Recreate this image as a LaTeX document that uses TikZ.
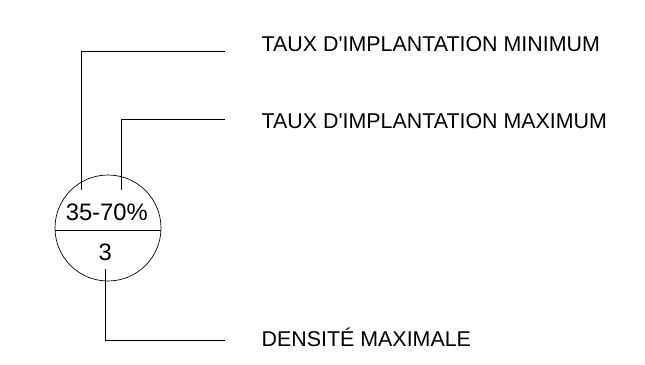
\documentclass[tikz,border=0pt]{standalone}
\usepackage{fontspec}
\setmainfont{Liberation Sans}
\newfontfamily\labfont{Liberation Sans}
\tikzset{lab/.style={anchor=base west,inner sep=0pt,font=\labfont\fontsize{21.4}{23}\selectfont},
 inl/.style={anchor=base,inner sep=0pt,font=\fontsize{23.8}{26}\selectfont},
 ln/.style={line width=0.7pt,black}}
\begin{document}
\begin{tikzpicture}[x=1pt,y=-1pt]
\useasboundingbox (0,0) rectangle (645,364);
\node[circle,draw,line width=0.7pt,minimum size=106pt,inner sep=0pt] (c) at (108,228) {};
\coordinate (cl) at (55,230.3);
\coordinate (cr) at (161,230.3);
\draw[ln] (cl) -- (cr);
\node[inl] (pct) at (106.8,220.7) {35-70\%};
\node[inl] (three) at (105.2,260.7) {3};
\node[lab] (t1) at (261.5,51.3) {TAUX D'IMPLANTATION MINIMUM};
\node[lab] (t2) at (261.5,128.7) {TAUX D'IMPLANTATION MAXIMUM};
\node[lab] (t3) at (261.5,346) {DENSITÉ MAXIMALE};
\coordinate (a1) at (81.3,190);
\coordinate (a2) at (121,190);
\coordinate (a3) at (105.3,269.3);
\coordinate (e1) at (225,51.3);
\coordinate (e2) at (225,119.7);
\coordinate (e3) at (225,340.7);
\draw[ln] (a1) |- (e1);
\draw[ln] (a2) |- (e2);
\draw[ln] (a3) |- (e3);
\end{tikzpicture}
\end{document}
